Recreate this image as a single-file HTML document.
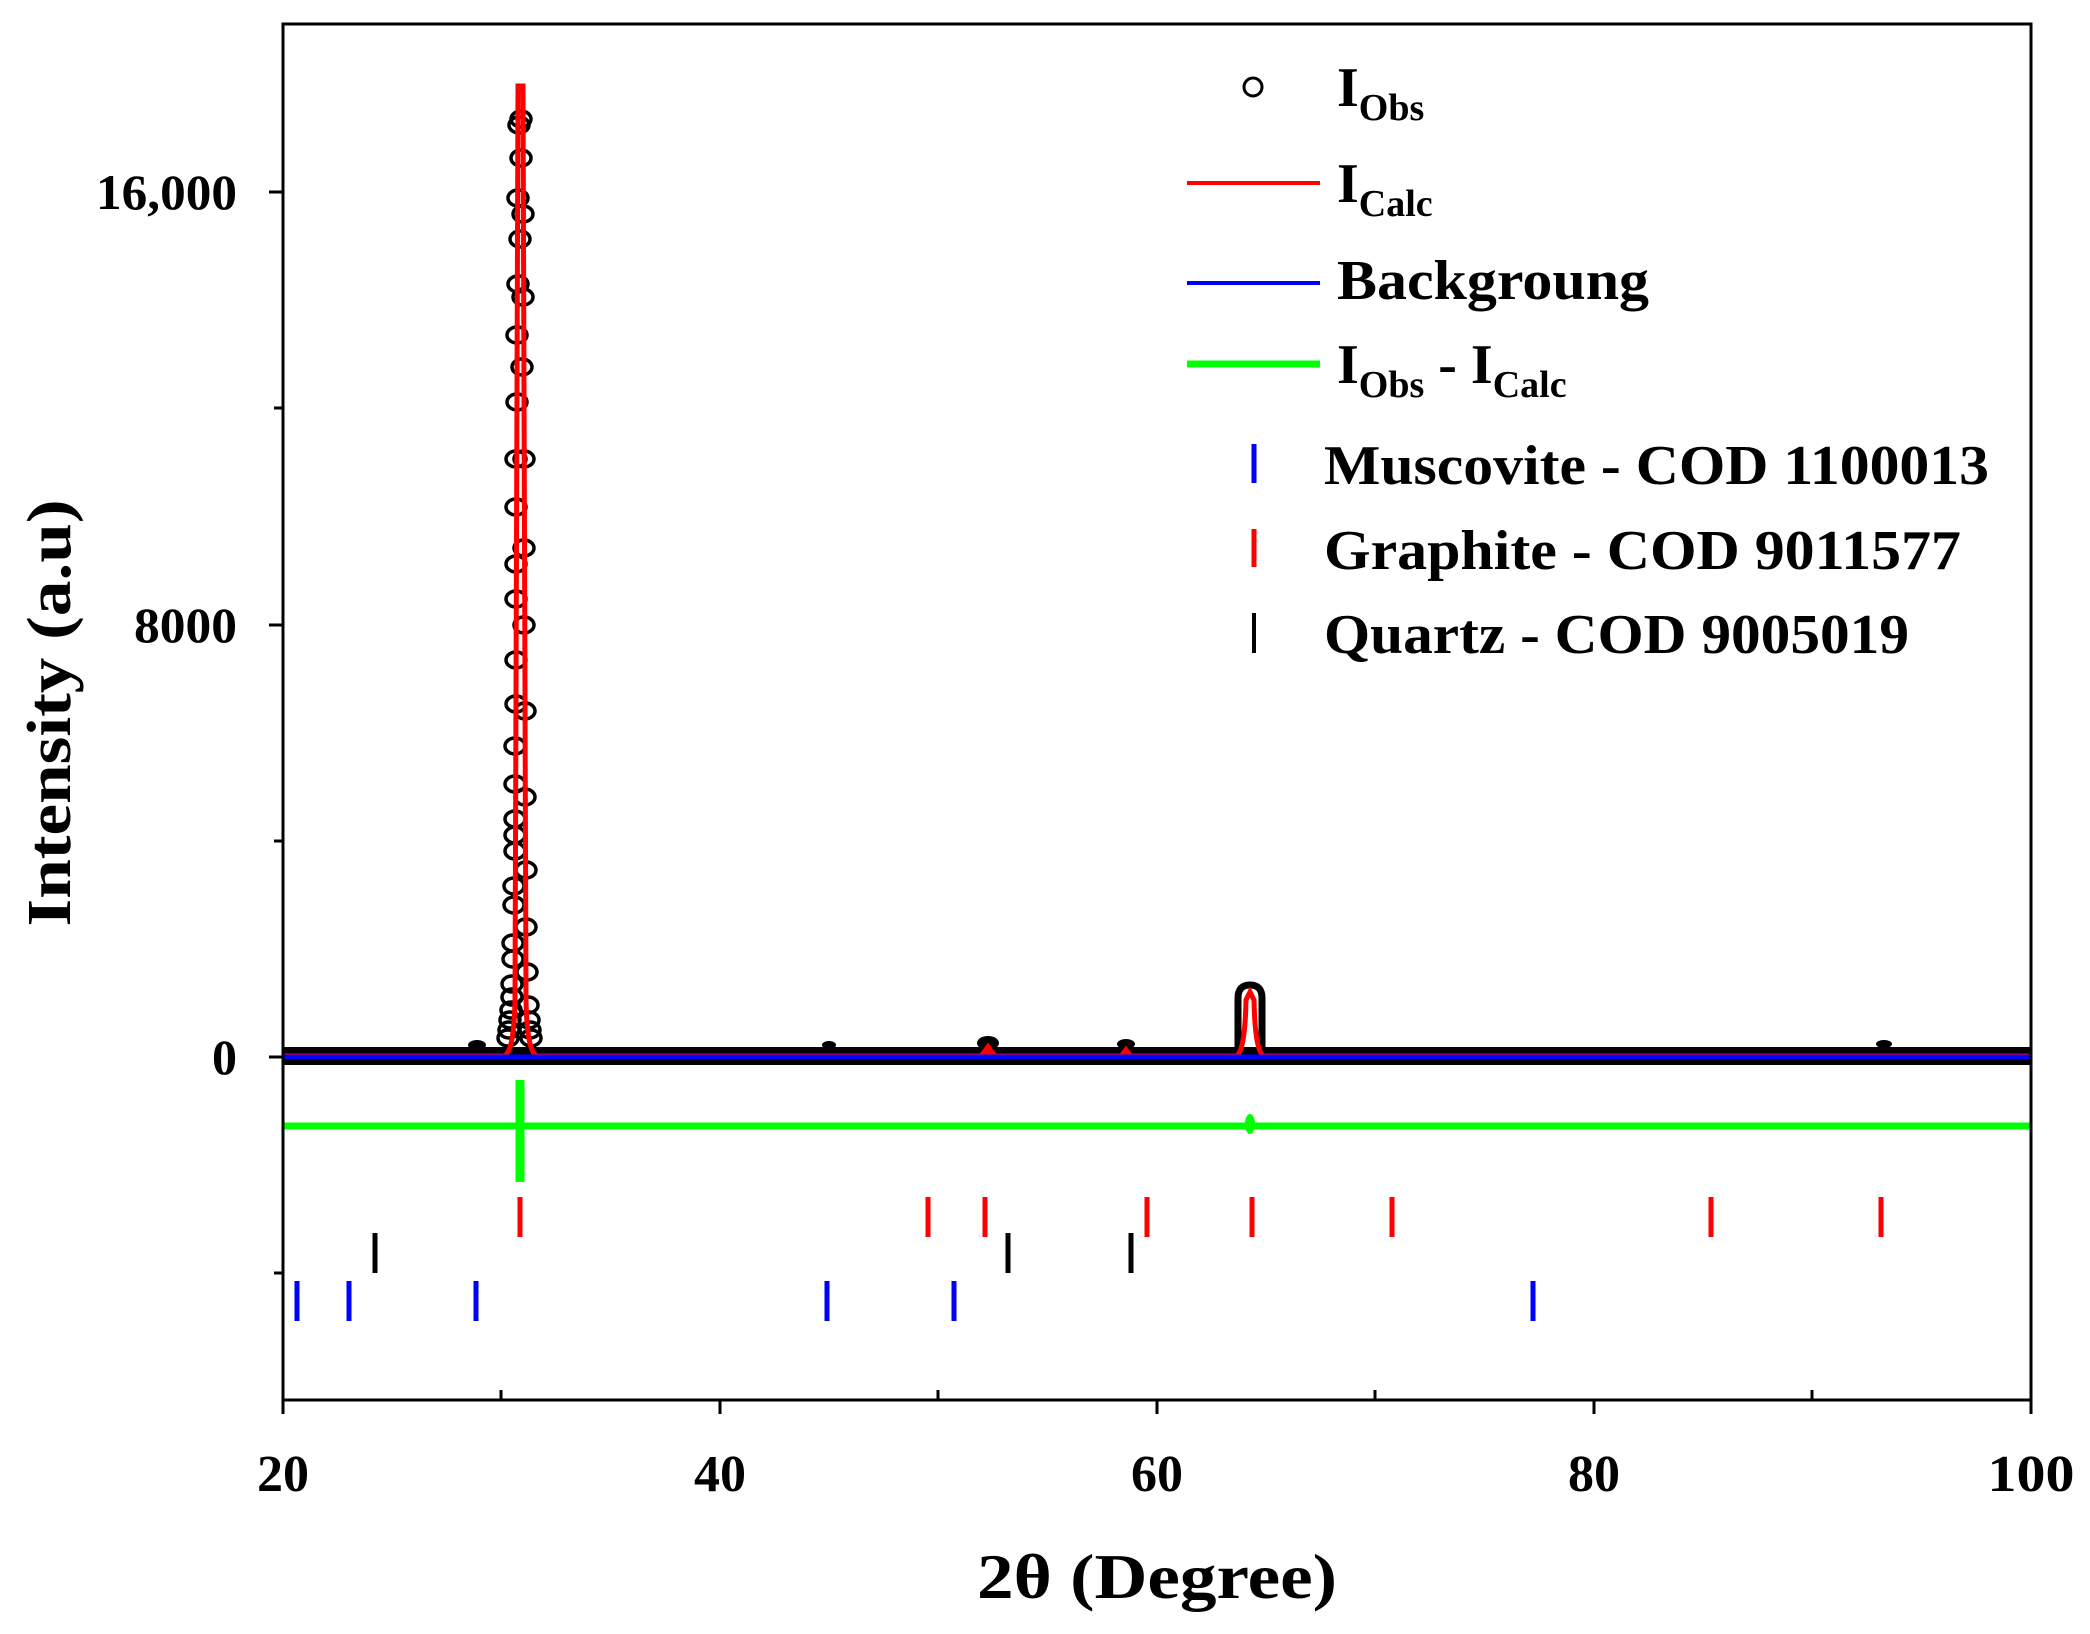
<!DOCTYPE html>
<html><head><meta charset="utf-8"><style>html,body{margin:0;padding:0;background:#fff}svg{display:block}</style></head>
<body>
<svg width="2090" height="1634" viewBox="0 0 2090 1634" xmlns="http://www.w3.org/2000/svg" font-family="Liberation Serif, serif" font-weight="bold">
<rect x="283" y="1047" width="1748" height="18" fill="#000"/>
<ellipse cx="477" cy="1045" rx="9" ry="5" fill="#000"/>
<ellipse cx="829" cy="1045" rx="7" ry="4" fill="#000"/>
<ellipse cx="988" cy="1043" rx="11" ry="7" fill="#000"/>
<ellipse cx="1126" cy="1044" rx="9" ry="5" fill="#000"/>
<ellipse cx="1884" cy="1044" rx="8" ry="4" fill="#000"/>
<path d="M1238 1050 L1238 998 Q1238 985 1250 985 Q1262 985 1262 998 L1262 1050" fill="none" stroke="#000" stroke-width="7"/>
<g fill="none" stroke="#000" stroke-width="3.5">
<ellipse cx="521" cy="119" rx="10" ry="8"/><ellipse cx="519" cy="125" rx="10" ry="8"/>
<ellipse cx="521" cy="158" rx="10" ry="8"/><ellipse cx="518" cy="198" rx="10" ry="8"/>
<ellipse cx="523" cy="214" rx="10" ry="8"/><ellipse cx="520" cy="239" rx="10" ry="8"/>
<ellipse cx="518" cy="284" rx="10" ry="8"/><ellipse cx="523" cy="297" rx="10" ry="8"/>
<ellipse cx="517" cy="335" rx="10" ry="8"/><ellipse cx="522" cy="367" rx="10" ry="8"/>
<ellipse cx="517" cy="402" rx="10" ry="8"/><ellipse cx="524" cy="459" rx="10" ry="8"/>
<ellipse cx="516" cy="459" rx="10" ry="8"/><ellipse cx="516" cy="507" rx="10" ry="8"/>
<ellipse cx="524" cy="548" rx="10" ry="8"/><ellipse cx="516" cy="564" rx="10" ry="8"/>
<ellipse cx="516" cy="599" rx="10" ry="8"/><ellipse cx="524" cy="625" rx="10" ry="8"/>
<ellipse cx="516" cy="660" rx="10" ry="8"/><ellipse cx="516" cy="704" rx="10" ry="8"/>
<ellipse cx="525" cy="711" rx="10" ry="8"/><ellipse cx="515" cy="746" rx="10" ry="8"/>
<ellipse cx="515" cy="784" rx="10" ry="8"/><ellipse cx="525" cy="797" rx="10" ry="8"/>
<ellipse cx="515" cy="819" rx="10" ry="8"/><ellipse cx="515" cy="835" rx="10" ry="8"/>
<ellipse cx="515" cy="851" rx="10" ry="8"/><ellipse cx="526" cy="870" rx="10" ry="8"/>
<ellipse cx="514" cy="886" rx="10" ry="8"/><ellipse cx="514" cy="905" rx="10" ry="8"/>
<ellipse cx="526" cy="927" rx="10" ry="8"/><ellipse cx="513" cy="943" rx="10" ry="8"/>
<ellipse cx="513" cy="959" rx="10" ry="8"/><ellipse cx="527" cy="972" rx="10" ry="8"/>
<ellipse cx="512" cy="984" rx="10" ry="8"/><ellipse cx="512" cy="997" rx="10" ry="8"/>
<ellipse cx="528" cy="1005" rx="10" ry="8"/><ellipse cx="511" cy="1010" rx="10" ry="8"/>
<ellipse cx="510" cy="1020" rx="10" ry="8"/><ellipse cx="529" cy="1020" rx="10" ry="8"/>
<ellipse cx="509" cy="1030" rx="10" ry="8"/><ellipse cx="530" cy="1030" rx="10" ry="8"/>
<ellipse cx="508" cy="1038" rx="10" ry="8"/><ellipse cx="531" cy="1038" rx="10" ry="8"/>
</g>
<path d="M283 1056 L504 1056 Q514 1052 515 1000 L518 86 L523 86 L526 1000 Q527 1052 537 1056 L1236 1056 Q1245 1052 1246 1000 L1250 992 L1254 1000 Q1255 1052 1264 1056 L2031 1056" fill="none" stroke="#f00" stroke-width="5"/>
<path d="M980 1056 L988 1045 L996 1056 M1120 1056 L1126 1048 L1132 1056" fill="#f00" stroke="#f00" stroke-width="3"/>
<line x1="283" y1="1057" x2="2031" y2="1057" stroke="#00f" stroke-width="5"/>
<line x1="283" y1="1126" x2="2031" y2="1126" stroke="#0f0" stroke-width="7"/>
<path d="M520 1080 L520 1182" stroke="#0f0" stroke-width="9"/>
<ellipse cx="1250" cy="1124" rx="5" ry="10" fill="#0f0"/>
<g stroke-width="5">
<g stroke="#f00">
<line x1="520" y1="1197" x2="520" y2="1237"/><line x1="928" y1="1197" x2="928" y2="1237"/><line x1="985" y1="1197" x2="985" y2="1237"/><line x1="1147" y1="1197" x2="1147" y2="1237"/><line x1="1252" y1="1197" x2="1252" y2="1237"/><line x1="1392" y1="1197" x2="1392" y2="1237"/><line x1="1711" y1="1197" x2="1711" y2="1237"/><line x1="1881" y1="1197" x2="1881" y2="1237"/>
</g>
<g stroke="#000">
<line x1="375" y1="1233" x2="375" y2="1273"/><line x1="1008" y1="1233" x2="1008" y2="1273"/><line x1="1131" y1="1233" x2="1131" y2="1273"/>
</g>
<g stroke="#00f">
<line x1="297" y1="1281" x2="297" y2="1321"/><line x1="349" y1="1281" x2="349" y2="1321"/><line x1="476" y1="1281" x2="476" y2="1321"/><line x1="827" y1="1281" x2="827" y2="1321"/><line x1="954" y1="1281" x2="954" y2="1321"/><line x1="1533" y1="1281" x2="1533" y2="1321"/>
</g>
</g>
<rect x="283" y="24" width="1748" height="1376" fill="none" stroke="#000" stroke-width="3"/>
<g stroke="#000" stroke-width="3">
<line x1="269" y1="192" x2="283" y2="192"/><line x1="269" y1="625" x2="283" y2="625"/><line x1="269" y1="1057" x2="283" y2="1057"/>
<line x1="274" y1="408" x2="283" y2="408"/><line x1="274" y1="841" x2="283" y2="841"/><line x1="274" y1="1273" x2="283" y2="1273"/>
<line x1="283" y1="1400" x2="283" y2="1414"/><line x1="720" y1="1400" x2="720" y2="1414"/><line x1="1157" y1="1400" x2="1157" y2="1414"/><line x1="1594" y1="1400" x2="1594" y2="1414"/><line x1="2031" y1="1400" x2="2031" y2="1414"/>
<line x1="501" y1="1400" x2="501" y2="1390"/><line x1="938" y1="1400" x2="938" y2="1390"/><line x1="1375" y1="1400" x2="1375" y2="1390"/><line x1="1812" y1="1400" x2="1812" y2="1390"/>
</g>
<g font-size="50" fill="#000">
<text x="237" y="209" text-anchor="end" textLength="141" lengthAdjust="spacingAndGlyphs">16,000</text>
<text x="237" y="642" text-anchor="end" textLength="103" lengthAdjust="spacingAndGlyphs">8000</text>
<text x="237" y="1074" text-anchor="end">0</text>
<g text-anchor="middle" font-size="52">
<text x="283" y="1491">20</text><text x="720" y="1491">40</text><text x="1157" y="1491">60</text><text x="1594" y="1491">80</text><text x="2031" y="1491" textLength="87" lengthAdjust="spacingAndGlyphs">100</text>
</g>
</g>
<text x="1157" y="1598" font-size="64" text-anchor="middle" textLength="360" lengthAdjust="spacingAndGlyphs">2θ (Degree)</text>
<text transform="translate(70,713) rotate(-90)" font-size="62" text-anchor="middle" textLength="427" lengthAdjust="spacingAndGlyphs">Intensity (a.u)</text>
<circle cx="1253" cy="87" r="9" fill="none" stroke="#000" stroke-width="3"/>
<line x1="1187" y1="183" x2="1320" y2="183" stroke="#f00" stroke-width="4"/>
<line x1="1187" y1="283" x2="1320" y2="283" stroke="#00f" stroke-width="4"/>
<line x1="1187" y1="364" x2="1320" y2="364" stroke="#0f0" stroke-width="7"/>
<line x1="1254" y1="444" x2="1254" y2="483" stroke="#00f" stroke-width="5"/>
<line x1="1254" y1="529" x2="1254" y2="567" stroke="#f00" stroke-width="5"/>
<line x1="1254" y1="613" x2="1254" y2="653" stroke="#000" stroke-width="4"/>
<g fill="#000" font-size="56">
<text x="1337" y="106">I<tspan font-size="38" dy="14">Obs</tspan></text>
<text x="1337" y="202">I<tspan font-size="38" dy="14">Calc</tspan></text>
<text x="1337" y="299" textLength="312" lengthAdjust="spacingAndGlyphs">Backgroung</text>
<text x="1337" y="383">I<tspan font-size="38" dy="14">Obs</tspan><tspan dy="-14"> - I</tspan><tspan font-size="38" dy="14">Calc</tspan></text>
<text x="1324" y="484" textLength="665" lengthAdjust="spacingAndGlyphs">Muscovite - COD 1100013</text>
<text x="1324" y="569" textLength="637" lengthAdjust="spacingAndGlyphs">Graphite - COD 9011577</text>
<text x="1324" y="653" textLength="585" lengthAdjust="spacingAndGlyphs">Quartz - COD 9005019</text>
</g>
</svg>
</body></html>
